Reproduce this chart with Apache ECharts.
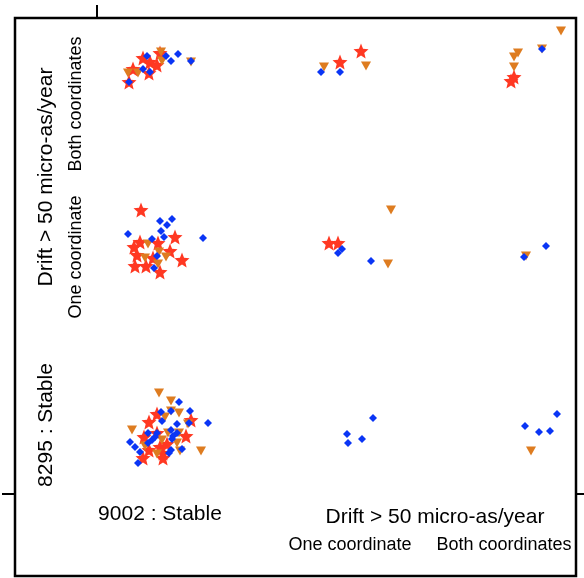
<!DOCTYPE html>
<html>
<head>
<meta charset="utf-8">
<script src="https://cdn.jsdelivr.net/npm/echarts@6/dist/echarts.min.js"></script>
<style>
  html, body { margin: 0; padding: 0; background: #fff; }
  #chart { width: 584px; height: 578px; }
</style>
</head>
<body>
<div id="chart"></div>
<script>
// values, in box units (x from left edge, y from bottom edge)
var starPoints = [
    [114, 494], [118, 507], [128, 518], [135, 514], [134, 503], [142, 511], [145, 523],
    [325, 514], [346, 525],
    [499, 499], [496, 495],
    [126, 366], [160, 339], [125, 334], [119, 329], [143, 333], [155, 325], [122, 321],
    [167, 316], [120, 310], [131, 310], [145, 304], [138, 318],
    [314, 333], [323, 333],
    [142, 162], [176, 156], [134, 154], [142, 143], [129, 139], [171, 140], [152, 132],
    [145, 129], [134, 126], [148, 123], [148, 118], [128, 118]
];
var trianglePoints = [
    [113, 503], [123, 503], [146, 524], [147, 515], [176, 514],
    [309, 509], [351, 510],
    [546, 545], [527, 527], [503, 523], [499, 519], [499, 509],
    [133, 332], [144, 324], [130, 318], [151, 319], [143, 312],
    [376, 366], [373, 312],
    [511, 320],
    [144, 183], [156, 175], [156, 165], [164, 163], [150, 159], [117, 146], [173, 152],
    [153, 143], [164, 143], [147, 136], [162, 133], [130, 130], [165, 125], [142, 122], [186, 125],
    [516, 125]
];
var bluePoints = [
    [114, 494], [132, 520], [128, 507], [135, 504], [151, 520], [156, 515], [163, 522], [176, 515],
    [306, 504], [325, 504],
    [527, 527],
    [113, 342], [145, 355], [157, 357], [152, 351], [146, 345], [149, 339], [137, 337], [188, 338],
    [142, 320], [139, 308],
    [327, 327], [323, 323], [356, 315],
    [509, 319], [531, 330],
    [164, 174], [146, 164], [156, 165], [175, 165], [147, 155], [162, 152], [174, 153], [193, 153],
    [133, 143], [142, 143], [140, 139], [156, 146], [162, 143], [158, 140], [137, 136], [133, 133],
    [115, 134], [120, 129], [125, 124], [156, 126], [154, 123], [167, 127], [123, 113], [157, 137],
    [358, 158], [332, 142], [347, 137], [333, 133],
    [542, 162], [510, 150], [524, 144], [535, 145]
];
var tickValue = [82];
var xLabels = ['9002 : Stable', 'Drift > 50 micro-as/year'];
var yLabels = ['8295 : Stable', 'Drift > 50 micro-as/year'];
var subLabels = ['One coordinate', 'Both coordinates'];

var font = '"Liberation Sans", Arial, Helvetica, sans-serif';
var starPath = 'path://M50,0 L62.9,32.2 L97.6,34.5 L70.9,56.8 L79.4,90.5 L50,72 L20.6,90.5 L29.1,56.8 L2.4,34.5 L37.1,32.2 Z';
var triPath = 'path://M0,0 L100,0 L50,87 Z';

function txt(x, y, s, size, rot) {
    return {
        type: 'text', x: x, y: y, rotation: rot || 0,
        style: {
            text: s, font: size + 'px ' + font, fill: '#000',
            align: 'center', verticalAlign: 'middle'
        }
    };
}

var myChart = echarts.init(document.getElementById('chart'));
var hidden = {show: false};
var noLine = {show: false, onZero: false};
var tick = {show: true, inside: false, length: 13, customValues: tickValue,
    lineStyle: {color: '#000', width: 2}};
var option = {
    animation: false,
    backgroundColor: '#fff',
    grid: {left: 15, top: 18, width: 561, height: 558, show: true,
        borderColor: '#000', borderWidth: 2.5, backgroundColor: 'transparent'},
    xAxis: {type: 'value', min: 0, max: 561, position: 'top',
        axisLine: noLine, axisLabel: hidden, splitLine: hidden, axisTick: tick},
    yAxis: [
        {type: 'value', min: 0, max: 558, position: 'left',
            axisLine: noLine, axisLabel: hidden, splitLine: hidden, axisTick: tick},
        {type: 'value', min: 0, max: 558, position: 'right',
            axisLine: noLine, axisLabel: hidden, splitLine: hidden, axisTick: tick}
    ],
    series: [
        {type: 'scatter', data: starPoints, symbol: starPath, symbolSize: 15,
            itemStyle: {color: '#ff3822', opacity: 1}},
        {type: 'scatter', data: trianglePoints, symbol: triPath, symbolSize: [10, 9],
            itemStyle: {color: '#de7c20', opacity: 1}},
        {type: 'scatter', data: bluePoints, symbol: 'diamond', symbolSize: [8, 8],
            itemStyle: {color: '#0a35f5', opacity: 1}}
    ],
    graphic: [
        txt(160, 514, xLabels[0], 21),
        txt(435, 517, xLabels[1], 21),
        txt(350, 545, subLabels[0], 18),
        txt(504, 545, subLabels[1], 18),
        txt(46, 425, yLabels[0], 21, Math.PI / 2),
        txt(46, 177, yLabels[1], 21, Math.PI / 2),
        txt(76, 257, subLabels[0], 18, Math.PI / 2),
        txt(76, 104, subLabels[1], 18, Math.PI / 2)
    ]
};
option && myChart.setOption(option);
</script>
</body>
</html>
